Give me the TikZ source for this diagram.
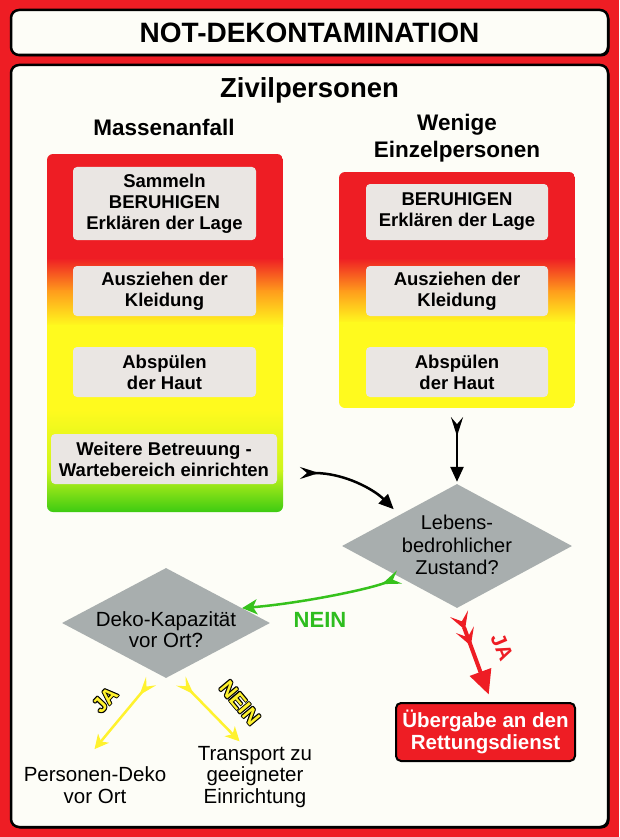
\documentclass[tikz,border=0pt]{standalone}
\usepackage{fontspec}
\setmainfont{Liberation Sans}
\usetikzlibrary{arrows.meta,shapes.geometric,calc,shadows}

\definecolor{signalred}{HTML}{EE1D24}
\definecolor{paper}{HTML}{FDFDF7}
\definecolor{stepgrey}{HTML}{EAE6E3}
\definecolor{decisiongrey}{HTML}{A8AEAE}
\definecolor{arrowgreen}{HTML}{36C21C}
\definecolor{labelgreen}{HTML}{2EBD1F}
\definecolor{arrowyellow}{HTML}{FFF22E}
\definecolor{gradorange}{HTML}{FF9A1C}
\definecolor{gradyellow}{HTML}{FFFA1E}
\definecolor{gradlime}{HTML}{CDF51C}
\definecolor{gradgreen}{HTML}{3DCB12}

\newcommand\fsz[2]{\fontsize{#1}{#2}\selectfont}
% text with a thin outline of colour #1
\newcommand\haloed[2]{\leavevmode
  \rlap{\color{#1}\hspace*{1pt}#2}\rlap{\color{#1}\hspace*{-1pt}#2}%
  \rlap{\color{#1}\raisebox{1pt}{#2}}\rlap{\color{#1}\raisebox{-1pt}{#2}}%
  \rlap{\color{#1}\hspace*{0.7pt}\raisebox{0.7pt}{#2}}%
  \rlap{\color{#1}\hspace*{-0.7pt}\raisebox{0.7pt}{#2}}%
  \rlap{\color{#1}\hspace*{0.7pt}\raisebox{-0.7pt}{#2}}%
  \rlap{\color{#1}\hspace*{-0.7pt}\raisebox{-0.7pt}{#2}}#2}

\tikzset{
  panel/.style={fill=paper, draw=black, line width=2.5pt, rounded corners=8pt,
    drop shadow={shadow xshift=1.5pt, shadow yshift=-1.5pt, fill=black, opacity=1}},
  stepbox/.style={fill=stepgrey, rounded corners=4pt, align=center, inner sep=0pt,
    font=\bfseries\fsz{18.5}{21}},
  heading/.style={font=\bfseries\fsz{22.5}{27}, align=center},
  decision/.style={diamond, fill=decisiongrey, inner sep=0pt},
  plain/.style={font=\fsz{20.5}{22}, align=center},
  flowblack/.style={draw=black, line width=2.5pt,
    {Stealth[reversed, length=19pt, width=12pt, inset=7pt]}-{Triangle[length=15pt, width=13pt]}},
  flowgreen/.style={draw=arrowgreen, line width=2.5pt,
    {Stealth[reversed, length=19pt, width=14pt, inset=7pt]}-{Stealth[length=15pt, width=15pt, inset=4pt]}},
  flowyellow/.style={draw=arrowyellow, line width=2.5pt,
    {Stealth[reversed, length=18pt, width=13pt, inset=7pt]}-{Stealth[length=14pt, width=14pt, inset=4pt]}},
  flowred/.style={draw=signalred, line width=4pt,
    {Stealth[reversed, length=17pt, width=19pt, inset=8pt] Stealth[reversed, length=17pt, width=19pt, inset=8pt]}-{Triangle[length=24pt, width=22pt]}},
}

\begin{document}
\begin{tikzpicture}[x=1pt, y=-1pt]
\useasboundingbox (0,0) rectangle (619,837);
\fill[signalred] (0,0) rectangle (619,837);

% frames
\node (toppanel) [panel, minimum width=597, minimum height=45] at (309.5,32.5) {};
\node (mainpanel) [panel, minimum width=597, minimum height=762] at (309.5,446) {};

\node (title) [font=\bfseries\fsz{28}{28}] at (309.5,33) {NOT-DEKONTAMINATION};
\node (zivil) [font=\bfseries\fsz{27.5}{28}] at (309.5,90) {Zivilpersonen};

\node (hmass) [heading] at (164,127) {Massenanfall};
\node (hfew) [heading] at (457,138.5) {Wenige\\Einzelpersonen};

% colour bars
\begin{scope}
  \clip[rounded corners=6pt] (47,154) rectangle (283,512);
  \fill[signalred] (47,154) rectangle (283,259);
  \shade[top color=signalred, bottom color=gradorange] (47,258) rectangle (283,291);
  \shade[top color=gradorange, bottom color=gradyellow] (47,290) rectangle (283,326);
  \fill[gradyellow] (47,325) rectangle (283,411);
  \shade[top color=gradyellow, bottom color=gradlime] (47,410) rectangle (283,471);
  \shade[top color=gradlime, bottom color=gradgreen] (47,470) rectangle (283,512);
\end{scope}
\node (lpanel) [minimum width=236, minimum height=358, inner sep=0pt] at (165,333) {};

\begin{scope}
  \clip[rounded corners=6pt] (339,172) rectangle (575,408);
  \fill[signalred] (339,172) rectangle (575,259);
  \shade[top color=signalred, bottom color=gradorange] (339,258) rectangle (575,291);
  \shade[top color=gradorange, bottom color=gradyellow] (339,290) rectangle (575,323);
  \fill[gradyellow] (339,322) rectangle (575,408);
\end{scope}
\node (rpanel) [minimum width=236, minimum height=236, inner sep=0pt] at (457,290) {};

% steps
\node (l1) [stepbox, minimum width=183, minimum height=73] at (164.5,203.5) {Sammeln\\BERUHIGEN\\Erklären der Lage};
\node (l2) [stepbox, minimum width=183, minimum height=50] at (164.5,291) {Ausziehen der\\Kleidung};
\node (l3) [stepbox, minimum width=183, minimum height=50] at (164.5,372) {Abspülen\\der Haut};
\node (l4) [stepbox, minimum width=226, minimum height=50] at (164,459) {Weitere Betreuung -\\Wartebereich einrichten};

\node (r1) [stepbox, minimum width=182, minimum height=56] at (457,212) {BERUHIGEN\\Erklären der Lage};
\node (r2) [stepbox, minimum width=182, minimum height=50] at (457,291) {Ausziehen der\\Kleidung};
\node (r3) [stepbox, minimum width=182, minimum height=50] at (457,372) {Abspülen\\der Haut};

% decisions
\node (d1) [decision, minimum width=230, minimum height=124] at (457,546) {};
\node (d1txt) [font=\fsz{20}{22.5}, align=center] at (457,545) {Lebens-\\bedrohlicher\\Zustand?};
\node (d2) [decision, minimum width=208, minimum height=110] at (166,623) {};
\node (d2txt) [font=\fsz{20.5}{21}, align=center] at (166,630) {Deko-Kapazität\\vor Ort?};

% outcomes
\node (rb) [fill=signalred, draw=black, line width=2pt, rounded corners=5pt,
  minimum width=179, minimum height=58, text=white, align=center,
  font=\bfseries\fsz{20.5}{22}] at (485.5,732) {Übergabe an den\\Rettungsdienst};
\node (pd) [plain] at (95,785) {Personen-Deko\\vor Ort};
\node (tp) [plain, font=\fsz{20.5}{21.5}] at (255,777) {Transport zu\\geeigneter\\Einrichtung};

% connectors
\coordinate (c1) at (300,473);
\coordinate (g2) at ($(d2.east)!0.27!(d2.north)$);
\coordinate (y1) at ($(d2.south)+(-15,3)$);
\coordinate (y2) at ($(d2.south)+(15,3)$);

\draw[flowblack, shorten <=9pt, shorten >=2pt] (rpanel.south) -- (d1.north);
\draw[flowblack, shorten >=8pt] (c1) .. controls +(45,0) and +(-25,-25) .. (d1.north west);
\draw[flowgreen] (d1.south west) .. controls +(-30,12) and +(60,-5) .. (g2);
\draw[flowred, shorten <=6pt, shorten >=8pt] (d1.south) -- ([xshift=6pt]rb.north);
\draw[flowyellow, shorten >=18pt] (y1) -- ([xshift=-12pt]pd.north);
\draw[flowyellow, shorten >=2pt] (y2) -- ([xshift=-14pt]tp.north);

% branch labels
\node (nein1) [font=\bfseries\fsz{22}{22}, text=labelgreen] at (320,620) {NEIN};
\node (ja1) [font=\bfseries\fsz{21}{21}, text=signalred, rotate=-67] at (502,647) {JA};
\node (ja2) [font=\bfseries\fsz{21}{21}, text=arrowyellow, rotate=47] at (105,700) {\haloed{black}{JA}};
\node (nein2) [font=\bfseries\fsz{21}{21}, text=arrowyellow, rotate=-50] at (240,703) {\haloed{black}{NEIN}};
\end{tikzpicture}
\end{document}
